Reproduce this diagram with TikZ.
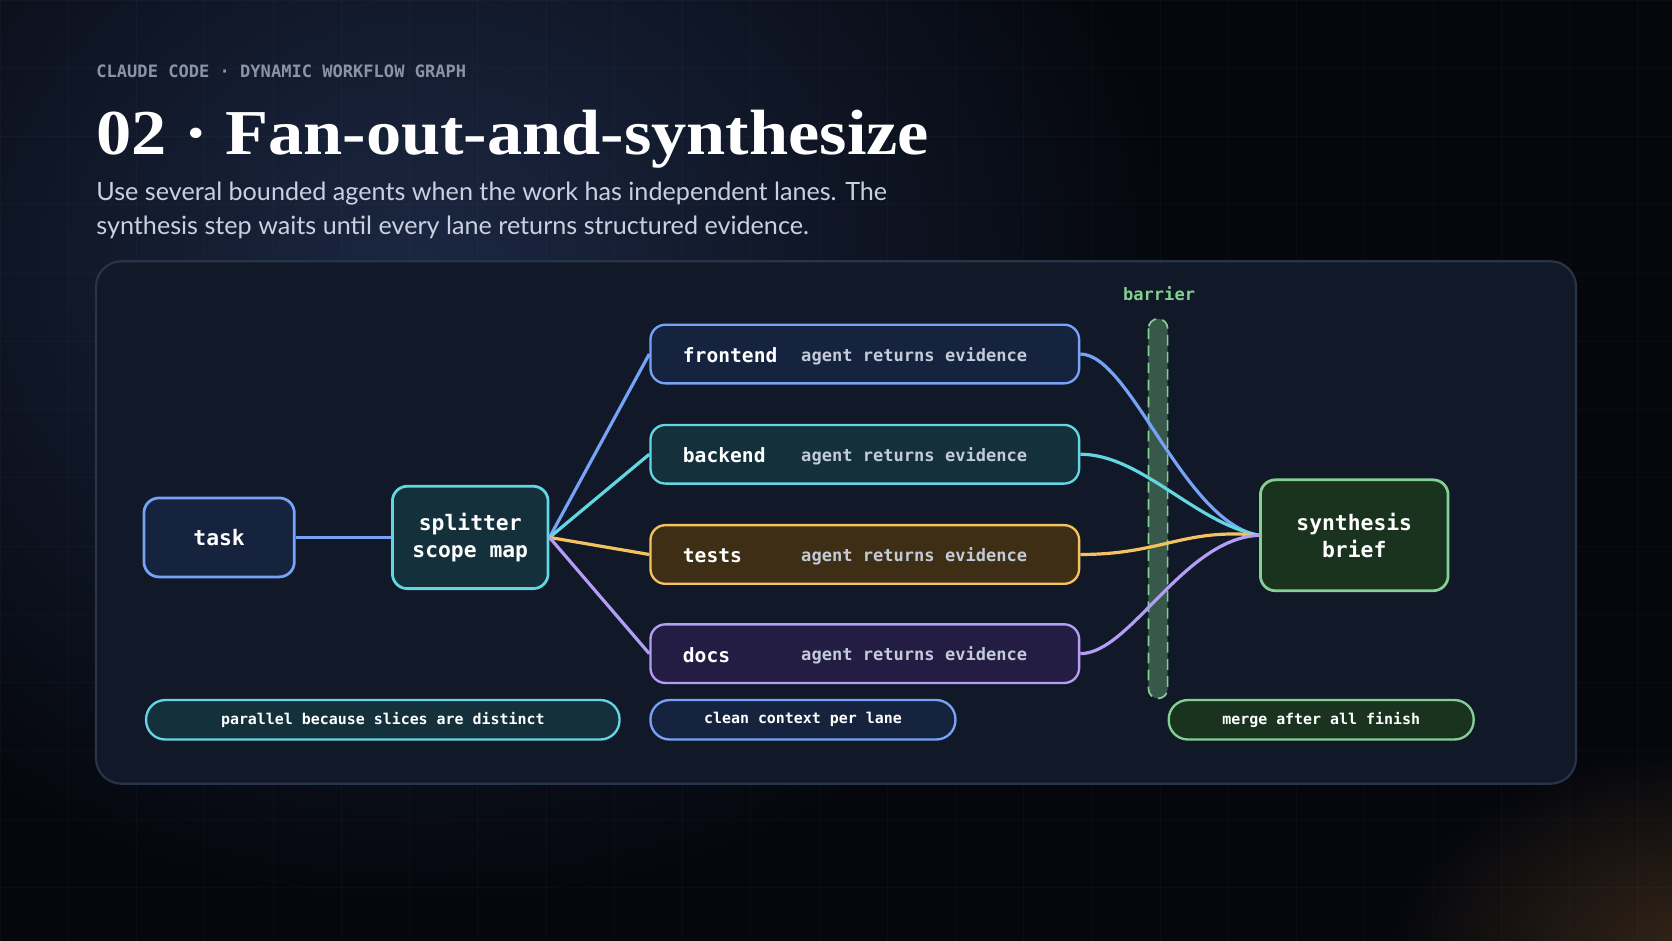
\documentclass[tikz,border=0pt]{standalone}
\usepackage{fontspec}
\setmainfont{Lato}
\setmonofont{DejaVu Sans Mono}
\newfontfamily\titlefont[FakeStretch=1.1]{Liberation Serif}
\usetikzlibrary{shadings,fadings}
\definecolor{bgA}{HTML}{1B2742}
\definecolor{bgB}{HTML}{05070D}
\definecolor{panel}{HTML}{111827}
\definecolor{panelln}{HTML}{283447}
\definecolor{cblue}{HTML}{76A2F7}
\definecolor{ccyan}{HTML}{62D6E2}
\definecolor{cyel}{HTML}{F4C25E}
\definecolor{cpur}{HTML}{B39DF6}
\definecolor{cgrn}{HTML}{84D092}
\definecolor{fblue}{HTML}{16233F}
\definecolor{fcyan}{HTML}{13303B}
\definecolor{fyel}{HTML}{3D2E15}
\definecolor{fpur}{HTML}{231C43}
\definecolor{fgrn}{HTML}{19331F}
\definecolor{sub}{HTML}{C9D1E0}
\definecolor{hdr}{HTML}{8A94A8}
\definecolor{agt}{HTML}{C3CAD8}
\begin{document}
\begin{tikzpicture}[x=0.5pt,y=-0.5pt,
  box/.style={draw=#1,line width=1.3pt,rounded corners=7pt,inner sep=0pt,text=white,font=\ttfamily\bfseries\fontsize{10}{12.5}\selectfont,align=center},
  lane/.style={draw=#1,line width=1.1pt,rounded corners=7pt,minimum width=201pt,minimum height=27.5pt,inner sep=0pt},
  pill/.style={draw=#1,line width=1.1pt,rounded corners=9pt,minimum height=18.5pt,inner sep=0pt,text=white,font=\ttfamily\bfseries\fontsize{7}{8}\selectfont},
  lbl/.style={text=white,font=\ttfamily\bfseries\fontsize{9.2}{11}\selectfont,anchor=west,inner sep=0pt},
  agt/.style={text=agt,font=\ttfamily\bfseries\fontsize{8}{10}\selectfont,anchor=west,inner sep=0pt},
  wire/.style={draw=#1,line width=1.5pt}]
\useasboundingbox (0,0) rectangle (1568,882);
\fill[bgB] (0,0) rectangle (1568,882);
\shade[inner color=bgA,outer color=bgB] (-300,-350) rectangle (1100,850);
\shade[inner color=brown!55!black,outer color=bgB,opacity=0.5] (1300,700) rectangle (1900,1100);
\foreach \i in {0,64,...,1568} \draw[white,opacity=0.025] (\i,0)--(\i,882);
\foreach \i in {0,64,...,882} \draw[white,opacity=0.025] (0,\i)--(1568,\i);
\node[anchor=west,inner sep=0pt,text=hdr,font=\ttfamily\bfseries\fontsize{8}{10}\selectfont] (hd) at (90,67) {CLAUDE CODE · DYNAMIC WORKFLOW GRAPH};
\node[anchor=base west,inner sep=0pt,text=white,font=\titlefont\bfseries\fontsize{30}{34}\selectfont] (tt) at (90,145) {02 · Fan-out-and-synthesize};
\node[anchor=north west,inner sep=0pt,text=sub,font=\fontsize{11.8}{16}\selectfont,align=left] (st) at (90,170) {Use several bounded agents when the work has independent lanes. The\\synthesis step waits until every lane returns structured evidence.};
\draw[panelln,fill=panel,line width=1pt,rounded corners=12pt] (90,245) rectangle (1478,735);
\node[box=cblue,fill=fblue,minimum width=70.5pt,minimum height=37pt] (task) at (205.5,504) {task};
\node[box=ccyan,fill=fcyan,minimum width=73pt,minimum height=48pt] (spl) at (441,504) {splitter\\scope map};
\node[box=cgrn,fill=fgrn,minimum width=88pt,minimum height=52pt] (syn) at (1270,502) {synthesis\\brief};
\foreach \n/\l/\y/\c/\f in {fe/frontend/332/cblue/fblue,be/backend/426/ccyan/fcyan,te/tests/520/cyel/fyel,do/docs/613/cpur/fpur}{
  \node[lane=\c,fill=\f] (\n) at (811,\y) {};
  \node[lbl] (\n l) at (640,\y+1) {\l};
  \node[agt] (\n a) at (751,\y+2) {agent returns evidence};
}
\draw[cgrn,dashed,dash pattern=on 5pt off 3pt,fill=cgrn!35!panel,line width=0.8pt,rounded corners=4.5pt] (1077,299) rectangle (1095,655);
\node[text=cgrn,font=\ttfamily\bfseries\fontsize{8}{10}\selectfont,inner sep=0pt] (bar) at (1087,275) {barrier};
\draw[wire=cblue] (task.east)--(spl.west);
\coordinate (so) at (spl.east);
\draw[wire=cblue] (so)--(fe.west);
\draw[wire=ccyan] (so)--(be.west);
\draw[wire=cyel] (so)--(te.west);
\draw[wire=cpur] (so)--(do.west);
\coordinate (si) at (syn.west);
\draw[wire=cblue] (fe.east) .. controls (1060,332) and (1110,490) .. (si);
\draw[wire=ccyan] (be.east) .. controls (1070,426) and (1120,490) .. (si);
\draw[wire=cyel] (te.east) .. controls (1090,520) and (1110,495) .. (si);
\draw[wire=cpur] (do.east) .. controls (1060,613) and (1110,505) .. (si);
\node[pill=ccyan,fill=fcyan,minimum width=222pt] (p1) at (359,675) {parallel because slices are distinct};
\node[pill=cblue,fill=fblue,minimum width=143pt] (p2) at (753,675) {clean context per lane};
\node[pill=cgrn,fill=fgrn,minimum width=143pt] (p3) at (1239,675) {merge after all finish};
\end{tikzpicture}
\end{document}
